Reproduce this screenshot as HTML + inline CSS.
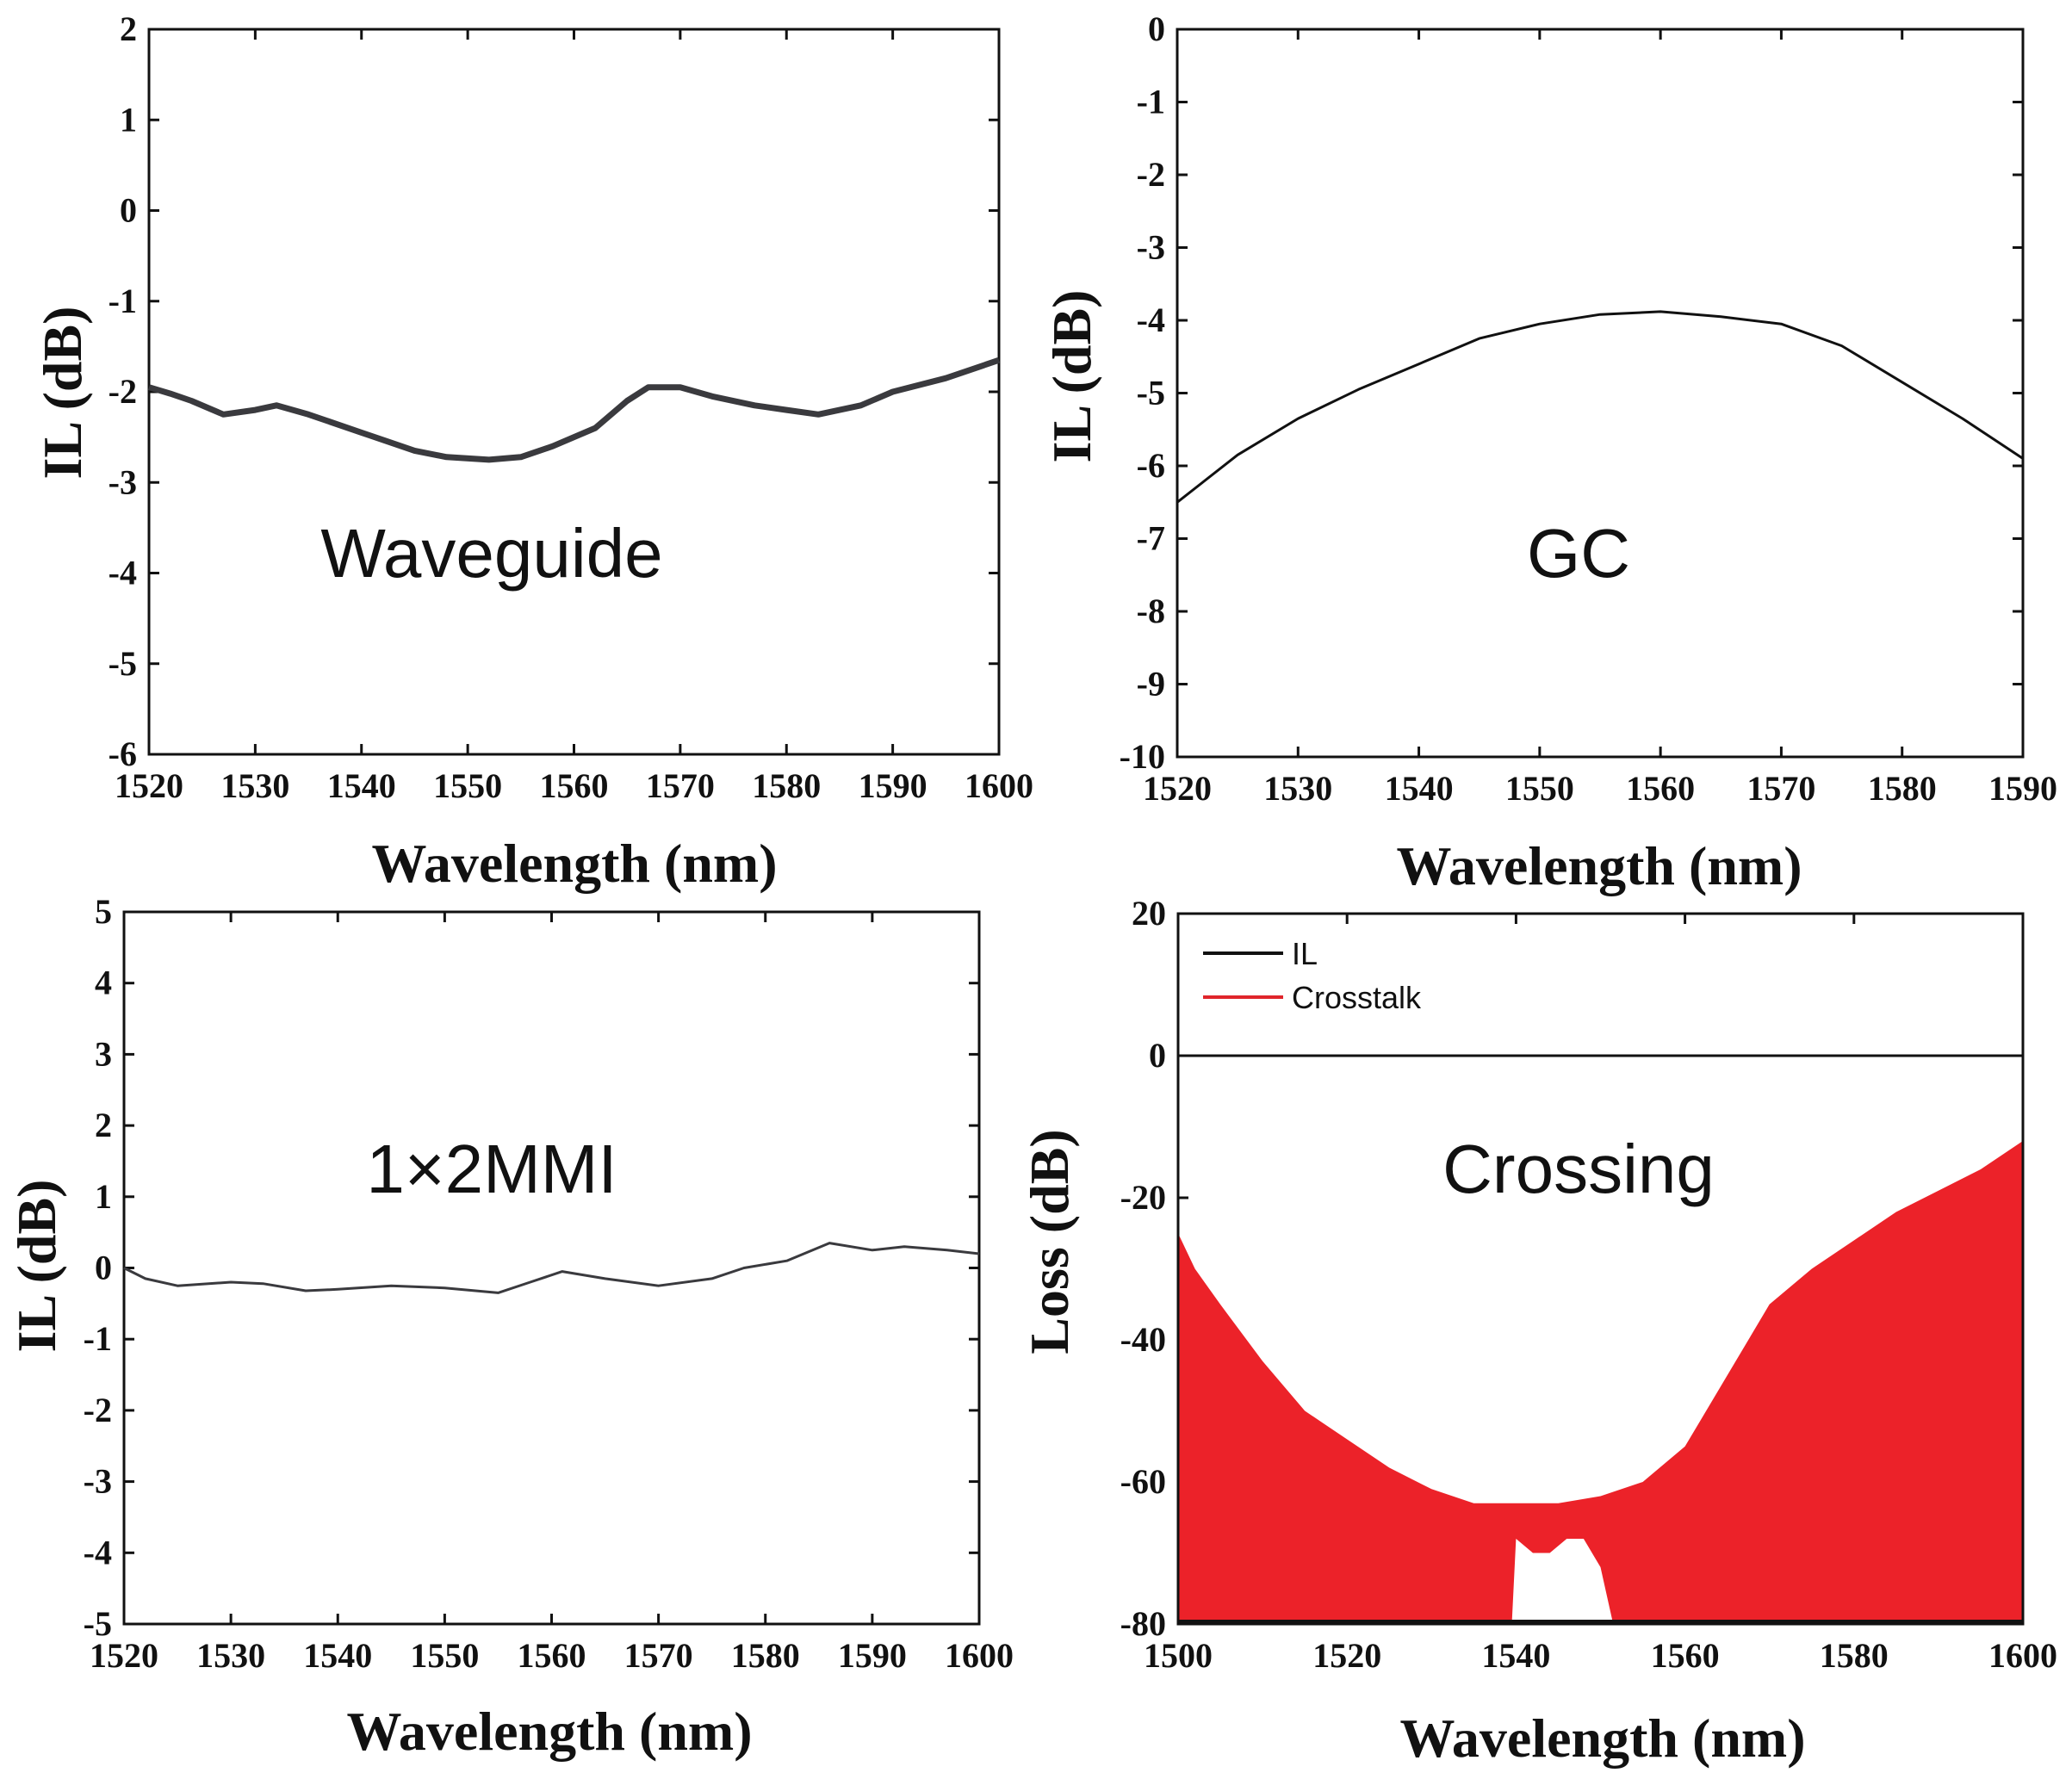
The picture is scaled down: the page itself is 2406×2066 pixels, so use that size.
<!DOCTYPE html>
<html><head><meta charset="utf-8">
<style>
html,body{margin:0;padding:0;background:#fff;}
svg{display:block;}
.tick{font-family:"Liberation Serif",serif;font-weight:bold;font-size:40px;fill:#111;}
.title{font-family:"Liberation Serif",serif;font-weight:bold;font-size:64px;fill:#111;}
.inner{font-family:"Liberation Sans",sans-serif;font-size:80px;fill:#111;}
.leg{font-family:"Liberation Sans",sans-serif;font-size:36px;fill:#111;}
</style></head>
<body>
<svg id="fig" width="2406" height="2066" viewBox="0 0 2406 2066" xmlns="http://www.w3.org/2000/svg"></svg>
<script>
// Waveguide panel data
const wgX = [1520,1522,1524,1527,1530,1532,1535,1540,1545,1548,1552,1555,1558,1562,1565,1567,1570,1573,1577,1580,1583,1587,1590,1595,1600];
const wgY = [-1.95,-2.02,-2.1,-2.25,-2.2,-2.15,-2.25,-2.45,-2.65,-2.72,-2.75,-2.72,-2.6,-2.4,-2.1,-1.95,-1.95,-2.05,-2.15,-2.2,-2.25,-2.15,-2.0,-1.85,-1.65];
// GC panel data
const gcX = [1520,1525,1530,1535,1540,1545,1550,1555,1560,1565,1570,1575,1580,1585,1590];
const gcY = [-6.5,-5.85,-5.35,-4.95,-4.6,-4.25,-4.05,-3.92,-3.88,-3.95,-4.05,-4.35,-4.85,-5.35,-5.9];
// MMI panel data
const mmX = [1520,1522,1525,1530,1533,1537,1540,1545,1550,1555,1558,1561,1565,1570,1575,1578,1582,1586,1590,1593,1597,1600];
const mmY = [0.0,-0.15,-0.25,-0.2,-0.22,-0.32,-0.3,-0.25,-0.28,-0.35,-0.2,-0.05,-0.15,-0.25,-0.15,0.0,0.1,0.35,0.25,0.3,0.25,0.2];
// Crossing panel data
const xtX = [1500,1502,1505,1510,1515,1520,1525,1530,1535,1540,1545,1550,1555,1560,1565,1570,1575,1580,1585,1590,1595,1600];
const xtY = [-25,-30,-35,-43,-50,-54,-58,-61,-63,-63,-63,-62,-60,-55,-45,-35,-30,-26,-22,-19,-16,-12];
const dipX = [1539.5,1540,1542,1544,1546,1548,1550,1551.5];
const dipY = [-80,-68,-70,-70,-68,-68,-72,-80];
const ilX = [1500,1600];
const ilY = [0,0];

const NS="http://www.w3.org/2000/svg";
const svg=document.getElementById('fig');
function el(tag,attrs,parent){const e=document.createElementNS(NS,tag);for(const k in attrs)e.setAttribute(k,attrs[k]);(parent||svg).appendChild(e);return e;}

function panel(name,L,R,T,B,x0,x1,y0,y1,xticks,yticks,xtitle,ytitle,tx,ty){
  const g=el('g',{});
  
  
  const sx=v=>L+(v-x0)/(x1-x0)*(R-L);
  const sy=v=>B-(v-y0)/(y1-y0)*(B-T);
  const frame=el('rect',{x:L,y:T,width:R-L,height:B-T,fill:'none',stroke:'#111','stroke-width':3},g);
  
  
  xticks.forEach(v=>{
    const x=sx(v);
    el('line',{x1:x,y1:B,x2:x,y2:B-12,stroke:'#111','stroke-width':3},g);
    el('line',{x1:x,y1:T,x2:x,y2:T+12,stroke:'#111','stroke-width':3},g);
    const t=el('text',{x:x,y:B+50,'text-anchor':'middle',class:'tick'},g);
    t.textContent=v;
    
    
  });
  yticks.forEach(v=>{
    const y=sy(v);
    el('line',{x1:L,y1:y,x2:L+12,y2:y,stroke:'#111','stroke-width':3},g);
    el('line',{x1:R,y1:y,x2:R-12,y2:y,stroke:'#111','stroke-width':3},g);
    const t=el('text',{x:L-14,y:y+13,'text-anchor':'end',class:'tick'},g);
    t.textContent=v;
    
    
  });
  const xt=el('text',{x:tx[0],y:tx[1],'text-anchor':'middle',class:'title'},g);
  xt.textContent=xtitle;
  
  
  const yt=el('text',{x:0,y:0,'text-anchor':'middle',class:'title',transform:`translate(${ty[0]},${ty[1]}) rotate(-90)`},g);
  yt.textContent=ytitle;
  
  
  return {g,sx,sy};
}
function line(p,xs,ys,color,w,name){
  const d=xs.map((x,i)=>(i?'L':'M')+p.sx(x).toFixed(1)+','+p.sy(ys[i]).toFixed(1)).join('');
  const e=el('path',{d:d,fill:'none',stroke:color,'stroke-width':w,'stroke-linejoin':'round'},p.g);
  
  
}
function label(p,x,y,txt,name){
  const t=el('text',{x:x,y:y,'text-anchor':'middle',class:'inner'},p.g);
  t.textContent=txt;
  
  
}

// Panel 1 Waveguide
const p1=panel('waveguide-panel',173,1160,34,876,1520,1600,-6,2,
  [1520,1530,1540,1550,1560,1570,1580,1590,1600],[2,1,0,-1,-2,-3,-4,-5,-6],
  'Wavelength (nm)','IL (dB)',[667,1024],[94,456]);
line(p1,wgX,wgY,'#3a3a3e',7,'waveguide-il-line');
label(p1,571,670,'Waveguide','waveguide-label');

// Panel 2 GC
const p2=panel('gc-panel',1367,2349,34,879,1520,1590,-10,0,
  [1520,1530,1540,1550,1560,1570,1580,1590],[0,-1,-2,-3,-4,-5,-6,-7,-8,-9,-10],
  'Wavelength (nm)','IL (dB)',[1857,1027],[1266,437]);
line(p2,gcX,gcY,'#111',3,'gc-il-line');
label(p2,1833,670,'GC','gc-label');

// Panel 3 MMI
const p3=panel('mmi-panel',144,1137,1059,1886,1520,1600,-5,5,
  [1520,1530,1540,1550,1560,1570,1580,1590,1600],[5,4,3,2,1,0,-1,-2,-3,-4,-5],
  'Wavelength (nm)','IL (dB)',[638,2032],[64,1470]);
line(p3,mmX,mmY,'#3a3a3e',3,'mmi-il-line');
label(p3,571,1385,'1×2MMI','mmi-label');

// Panel 4 Crossing
const p4=panel('crossing-panel',1368,2349,1061,1886,1500,1600,-80,20,
  [1500,1520,1540,1560,1580,1600],[20,0,-20,-40,-60,-80],
  'Wavelength (nm)','Loss (dB)',[1861,2040],[1240,1442]);
(function(){
  let d='M'+p4.sx(xtX[0])+','+p4.sy(-80);
  xtX.forEach((x,i)=>{d+='L'+p4.sx(x).toFixed(1)+','+p4.sy(xtY[i]).toFixed(1);});
  d+='L'+p4.sx(xtX[xtX.length-1])+','+p4.sy(-80)+'Z';
  const a=el('path',{d:d,fill:'#ec2229'},p4.g);
  
  
  let d2='M'+p4.sx(dipX[0]).toFixed(1)+','+p4.sy(dipY[0]).toFixed(1);
  dipX.forEach((x,i)=>{d2+='L'+p4.sx(x).toFixed(1)+','+p4.sy(dipY[i]).toFixed(1);});
  d2+='Z';
  const h=el('path',{d:d2,fill:'#fff'},p4.g);
  
  
})();
line(p4,ilX,ilY,'#111',3,'il-line');
el('line',{x1:1368,y1:1884,x2:2349,y2:1884,stroke:'#111','stroke-width':6},p4.g);
el('rect',{x:1368,y:1061,width:981,height:825,fill:'none',stroke:'#111','stroke-width':3},p4.g);
label(p4,1833,1385,'Crossing','crossing-label');
const lg=el('g',{},p4.g);


el('line',{x1:1397,y1:1107,x2:1490,y2:1107,stroke:'#111','stroke-width':4},lg);
el('line',{x1:1397,y1:1158,x2:1490,y2:1158,stroke:'#e0252b','stroke-width':4},lg);
const l1=el('text',{x:1500,y:1120,class:'leg'},lg);l1.textContent='IL';


const l2=el('text',{x:1500,y:1171,class:'leg'},lg);l2.textContent='Crosstalk';


</script>
</body></html>
